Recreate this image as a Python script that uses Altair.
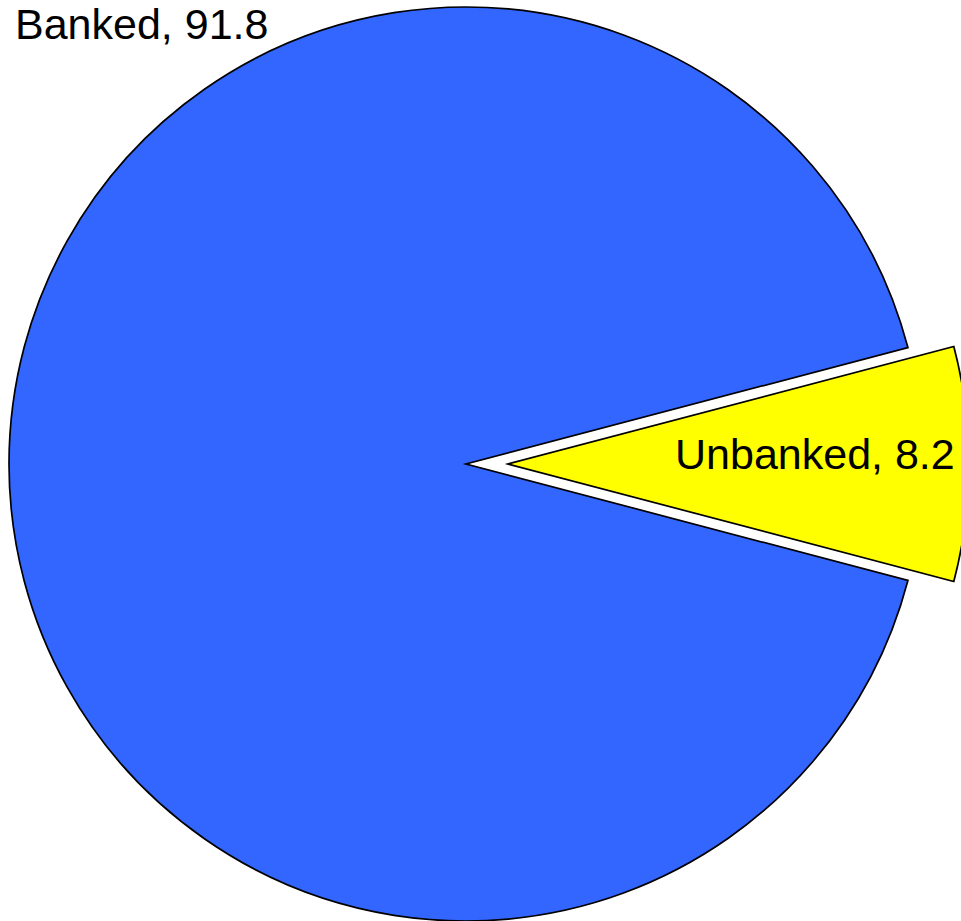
import math
import altair as alt
import pandas as pd

categories = ["Unbanked", "Banked"]
values = [8.2, 91.8]
colors = ["#FFFF00", "#3366FF"]

df = pd.DataFrame({"category": categories, "value": values})

total = sum(values)
start_angle = math.pi / 2 - (values[0] / 2) / total * 2 * math.pi

base = (
    alt.Chart(df)
    .transform_window(end="sum(value)", frame=[None, 0])
    .transform_calculate(start="datum.end - datum.value")
    .transform_calculate(label="datum.category + ', ' + format(datum.value, '.1f')")
)

theta_scale = alt.Scale(domain=[0, total], range=[start_angle, start_angle + 2 * math.pi])
color_enc = alt.Color("category:N", scale=alt.Scale(domain=categories, range=colors), legend=None)

banked_arc = (
    base.transform_filter(alt.datum.category == "Banked")
    .mark_arc(outerRadius=457, stroke="black", strokeWidth=1.7)
    .encode(
        theta=alt.Theta("start:Q", scale=theta_scale),
        theta2="end:Q",
        color=color_enc,
        x=alt.value(466),
        y=alt.value(464),
    )
)

unbanked_arc = (
    base.transform_filter(alt.datum.category == "Unbanked")
    .mark_arc(outerRadius=461, stroke="black", strokeWidth=1.7)
    .encode(
        theta=alt.Theta("start:Q", scale=theta_scale),
        theta2="end:Q",
        color=color_enc,
        x=alt.value(508),
        y=alt.value(464),
    )
)

banked_label = (
    base.transform_filter(alt.datum.category == "Banked")
    .mark_text(align="left", baseline="alphabetic", fontSize=43, font="Liberation Sans", color="black")
    .encode(text="label:N", x=alt.value(15), y=alt.value(39))
)

unbanked_label = (
    base.transform_filter(alt.datum.category == "Unbanked")
    .mark_text(align="left", baseline="alphabetic", fontSize=43, font="Liberation Sans", color="black")
    .encode(text="label:N", x=alt.value(675), y=alt.value(469))
)

chart = (
    alt.layer(banked_arc, unbanked_arc, banked_label, unbanked_label)
    .properties(width=961, height=921, padding=0, autosize=alt.AutoSizeParams(type="none"), background="white")
    .configure_view(stroke=None)
)

chart.save("out.html", embed_options={"renderer": "svg", "actions": False})
